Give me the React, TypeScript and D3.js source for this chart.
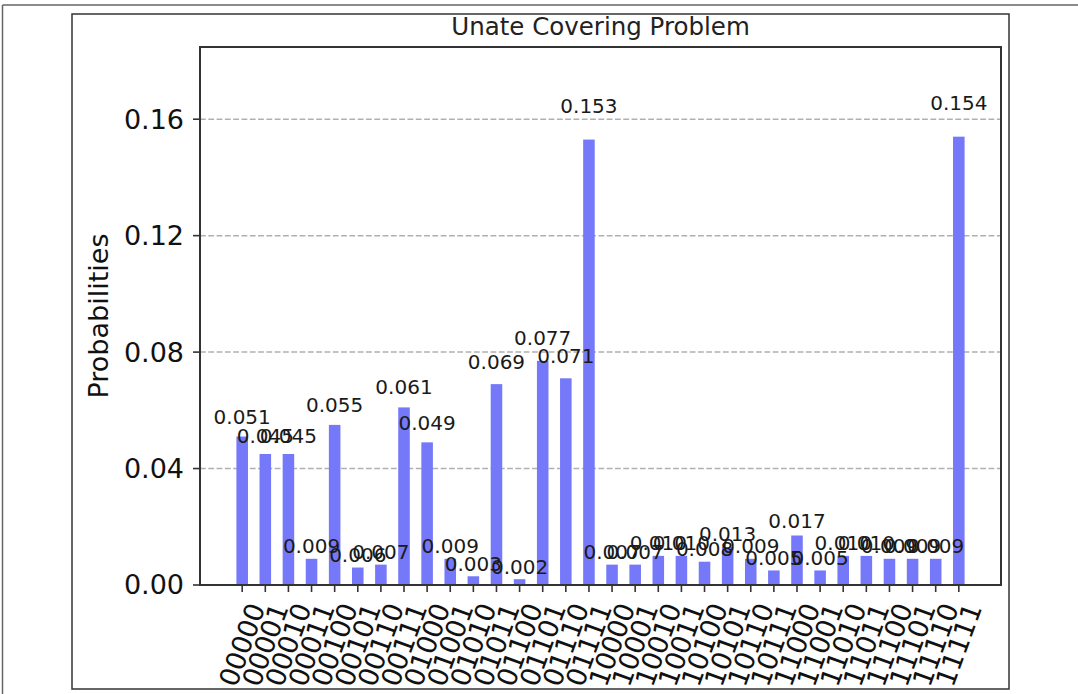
import React from "react";
import * as d3 from "d3";

// Measured outcome probabilities for each 5-bit basis state
const states: string[] = [
  "00000", "00001", "00010", "00011", "00100", "00101", "00110", "00111",
  "01000", "01001", "01010", "01011", "01100", "01101", "01110", "01111",
  "10000", "10001", "10010", "10011", "10100", "10101", "10110", "10111",
  "11000", "11001", "11010", "11011", "11100", "11101", "11110", "11111",
];
const probabilities: number[] = [
  0.051, 0.045, 0.045, 0.009, 0.055, 0.006, 0.007, 0.061,
  0.049, 0.009, 0.003, 0.069, 0.002, 0.077, 0.071, 0.153,
  0.007, 0.007, 0.010, 0.010, 0.008, 0.013, 0.009, 0.005,
  0.017, 0.005, 0.010, 0.010, 0.009, 0.009, 0.009, 0.154,
];
const yTicks: number[] = [0, 0.04, 0.08, 0.12, 0.16];

const W = 1078;
const H = 694;
const FONT = "'DejaVu Sans', sans-serif";

// Plot area
const axL = 200;
const axR = 1001;
const axT = 47;
const axB = 585;

const BAR_W = 0.5;

export default function App() {
  const n = states.length;
  const span = n - 1 + BAR_W;
  const margin = span * 0.05;
  const x = d3
    .scaleLinear()
    .domain([-BAR_W / 2 - margin, n - 1 + BAR_W / 2 + margin])
    .range([axL, axR]);
  const yMax = (d3.max(probabilities) as number) * 1.2;
  const y = d3.scaleLinear().domain([0, yMax]).range([axB, axT]);
  const fmt = d3.format(".3f");
  const bw = x(BAR_W) - x(0);

  const tickFont = 27;
  const labelFont = 20;
  const xlabTop = axB + 14;
  const rad = (70 * Math.PI) / 180;

  return (
    <svg
      width={W}
      height={H}
      style={{ position: "absolute", left: 0, top: 0, background: "#fff" }}
      fontFamily={FONT}
    >
      <rect x={0} y={0} width={W} height={H} fill="#fff" />
      {/* page frame */}
      <line x1={2.5} y1={5} x2={W} y2={5} stroke="#666" strokeWidth={1.5} />
      <line x1={2.5} y1={5} x2={2.5} y2={H} stroke="#666" strokeWidth={1.5} />
      {/* figure frame */}
      <rect x={72} y={14} width={1009 - 72} height={689 - 14} fill="#fff" stroke="#333" strokeWidth={1.5} />

      {/* grid */}
      {yTicks
        .filter((t) => t > 0)
        .map((t) => (
          <line
            key={"g" + t}
            x1={axL}
            x2={axR}
            y1={y(t)}
            y2={y(t)}
            stroke="#b0b0b0"
            strokeWidth={1.5}
            strokeDasharray="5.8,2.5"
          />
        ))}

      {/* bars */}
      {probabilities.map((p, i) => (
        <rect
          key={"b" + i}
          x={x(i) - bw / 2}
          y={y(p)}
          width={bw}
          height={axB - y(p)}
          fill="#7678fa"
        />
      ))}

      {/* value labels */}
      {probabilities.map((p, i) => (
        <text
          key={"v" + i}
          x={x(i)}
          y={y(p * 1.05) - 0.236 * labelFont}
          textAnchor="middle"
          fontSize={labelFont}
          fill="#1a1a1a"
        >
          {fmt(p)}
        </text>
      ))}

      {/* axes box */}
      <rect x={axL} y={axT} width={axR - axL} height={axB - axT} fill="none" stroke="#333" strokeWidth={2} />

      {/* y ticks */}
      {yTicks.map((t) => (
        <g key={"yt" + t}>
          <line x1={axL - 7} x2={axL} y1={y(t)} y2={y(t)} stroke="#333" strokeWidth={1.6} />
          <text
            x={axL - 16}
            y={y(t)}
            dy="0.35em"
            textAnchor="end"
            fontSize={tickFont}
            fill="#111"
          >
            {t.toFixed(2)}
          </text>
        </g>
      ))}

      {/* x ticks and rotated state labels */}
      {states.map((s, i) => {
        const w = s.length * 0.636 * tickFont;
        const h = 1.164 * tickFont;
        const halfH = (w * Math.sin(rad) + h * Math.cos(rad)) / 2;
        const cx = x(i);
        const cy = xlabTop + halfH;
        return (
          <g key={"xt" + i}>
            <line x1={cx} x2={cx} y1={axB} y2={axB + 7} stroke="#333" strokeWidth={1.6} />
            <text
              x={cx}
              y={cy}
              dy="0.35em"
              textAnchor="middle"
              fontSize={tickFont}
              fill="#111"
              transform={`rotate(-70 ${cx} ${cy})`}
            >
              {s}
            </text>
          </g>
        );
      })}

      {/* axis label and title */}
      <text
        x={108}
        y={(axT + axB) / 2}
        textAnchor="middle"
        fontSize={tickFont}
        fill="#111"
        transform={`rotate(-90 108 ${(axT + axB) / 2})`}
      >
        Probabilities
      </text>
      <text x={(axL + axR) / 2} y={35} textAnchor="middle" fontSize={24.5} fill="#222">
        Unate Covering Problem
      </text>
    </svg>
  );
}
